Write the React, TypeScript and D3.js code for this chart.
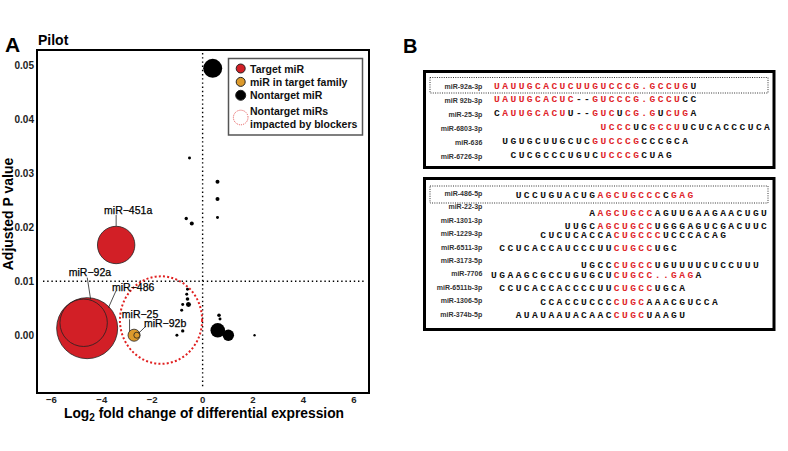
import React from "react";
import * as d3 from "d3";

const W = 788;
const H = 451;

// ---------- Panel A data ----------
const pointNames = [
  "miR-486", "miR-92a", "miR-451a", "miR-25", "miR-92b",
  "", "", "", "", "", "", "", "", "", "", "", "", "", "", "", "", "", "", "", "",
];
const pointType = [
  "target", "target", "target", "family", "family",
  "non", "non", "non", "non", "non", "non", "non", "non", "non", "non", "non",
  "non", "non", "non", "non", "non", "non", "non", "non", "non",
];
const pointLog2FC = [
  -4.58, -4.72, -3.43, -2.72, -2.61,
  0.4, 0.6, 1.02, -0.56, -0.52, 0.59, 0.59, 0.59, -0.65, -0.43,
  -0.6, -0.63, -0.6, -0.79, -0.83, -0.79, -1.02, 0.65, 0.69, 2.06,
];
const pointPadj = [
  0.0013, 0.0023, 0.0167, 0.0, 0.0,
  0.0494, 0.0009, 0.0, 0.0057, 0.0328, 0.0284, 0.0252, 0.0218, 0.0216, 0.0207,
  0.0085, 0.0076, 0.0067, 0.0057, 0.0046, 0.0008, 0.0, 0.0037, 0.003, 0.0,
];
const pointAbundance = [
  1000, 604, 376, 39, 9.7,
  97, 57, 35, 6.7, 2.4, 4.3, 4.3, 2.4, 3, 4.3,
  2.4, 2.4, 3.5, 2.4, 2.4, 3, 2.4, 3.5, 2.4, 1.5,
];
const blockerRegion = { x: -1.65, y: 0.0028, rx: 1.63, ry: 0.0081 };
const xTicks = [-6, -4, -2, 0, 2, 4, 6];
const yTicks = [0, 0.01, 0.02, 0.03, 0.04, 0.05];
const legendItems = ["Target miR", "miR in target family", "Nontarget miR"];
const legendBlocker = ["Nontarget miRs", "impacted by blockers"];

// ---------- Panel B data ----------
const topLabels = ["miR-92a-3p", "miR 92b-3p", "miR-25-3p", "miR-6803-3p", "miR-636", "miR-6726-3p"];
const topSeqs = [
  "UAUUGCACUCUUGUCCCG.GCCUGU",
  "UAUUGCACUC--GUCCCG.GCCUCC",
  "CAUUGCACUU--GUCUCG.GUCUGA",
  "UCCCUCGCCUUCUCACCCUCA",
  "UGUGCUUGCUCGUCCCGCCCGCA",
  "CUCGCCCUGUCUCCCGCUAG",
];
const topStarts = [0, 0, 0, 13, 1, 2];
const topMasks = [
  "RRRRRRRRRRRRRRRRRRRRRRRRK",
  "RRRRRRRRRRKKRRRRRRRRRRRKK",
  "KRRRRRRRRKKKRRRKRRRRKRRRK",
  "RRRRKKRRRRKKKKKKKKKKK",
  "KKKKKKKKKKKRRRRRRKKKKKK",
  "KKKKKKKKKKKRRRRRKKKK",
];
const bottomLabels = [
  "miR-486-5p", "miR-22-3p", "miR-1301-3p", "miR-1229-3p", "miR-6511-3p",
  "miR-3173-5p", "miR-7706", "miR-6511b-3p", "miR-1306-5p", "miR-374b-5p",
];
const bottomSeqs = [
  "UCCUGUACUGAGCUGCCCCGAG",
  "AAGCUGCCAGUUGAAGAACUGU",
  "UUGCAGCUGCCUGGGAGUCGACUUC",
  "CUCUCACCACUGCCCUCCCACAG",
  "CCUCACCAUCCCUUCUGCCUGC",
  "UGCCCUGCCUGUUUUCUCCUUU",
  "UGAAGCGCCUGUGCUCUGCC..GAGA",
  "CCUCACCACCCCUUCUGCCUGCA",
  "CCACCUCCCCUGCAAACGUCCA",
  "AUAUAAUACAACCUGCUAAGU",
];
const bottomStarts = [3, 12, 9, 6, 1, 11, 0, 1, 6, 3];
const bottomMasks = [
  "KKKKKKKKKKRRRRRRRRKRRR",
  "KRRRRRRRKKKKKKKKKKKKKK",
  "KKKKRRRRRRRKKKKKKKKKKKKKK",
  "KKKKKKKKKRRRRRRKKKKKKKK",
  "KKKKKKKKKKKKKKRRRRRKKK",
  "KKKKRRRRRKKKKKKKKKKKKK",
  "KKKKKKKKKKKKKKKRRRRRRRRRRK",
  "KKKKKKKKKKKKKKRRRRRKKKK",
  "KKKKKKKKKRRRRKKKKKKKKK",
  "KKKKKKKKKKKKRRRRKKKKK",
];

// ---------- layout ----------
const SANS = "'Liberation Sans', Arial, sans-serif";
const MONO = "'Liberation Mono', 'Courier New', monospace";
const RED = "#d21f26";
const ORANGE = "#dc9a2c";
const SEQRED = "#e0262b";

const plot = { left: 37, right: 369, top: 50, bottom: 393 };
const x = d3.scaleLinear().domain([-6.57, 6.6]).range([plot.left, plot.right]);
const y = d3.scaleLinear().domain([-0.0107, 0.0528]).range([plot.bottom, plot.top]);
const r = d3.scaleSqrt().domain([0, 1000]).range([0, 30.5]);
const fmtY = d3.format(".2f");
const fmtX = d3.format("d");

// annotation offsets (px) relative to point centre
const labelLayout: Record<string, { tx: number; ty: number; l: number[] }> = {
  "miR-451a": { tx: 12, ty: -30.5, l: [0, -30, 0, -19] },
  "miR-92a": { tx: 6.3, ty: -46.5, l: [3.6, -45.2, 7, -23.4] },
  "miR-486": { tx: 46, ty: -37.3, l: [28.7, -37.1, 21.3, -20.5] },
  "miR-25": { tx: 6, ty: -17, l: [-4.5, -16, -4.5, -4] },
  "miR-92b": { tx: 28.3, ty: -8, l: [9, -9, 1.8, -2] },
};

const pitch = 8.18;

function SeqBox({ bx, by, bw, bh, labels, seqs, starts, masks, labelY, seqY, col0, dotBox }: any) {
  return (
    <g>
      <rect x={bx} y={by} width={bw} height={bh} fill="white" stroke="#000" strokeWidth={3} />
      <rect x={dotBox[0]} y={dotBox[1]} width={dotBox[2]} height={dotBox[3]} fill="none" stroke="#333" strokeWidth={1} strokeDasharray="1,1.3" />
      {labels.map((lab: string, i: number) => (
        <text key={"l" + i} x={482.3} y={labelY[i]} textAnchor="end" dominantBaseline="central"
          fontFamily={SANS} fontSize={7} fontWeight="bold" fill="#333">{lab}</text>
      ))}
      {seqs.map((s: string, i: number) =>
        s.split("").map((ch, j) => (
          <text key={"s" + i + "_" + j} x={col0 + (starts[i] + j) * pitch} y={seqY[i]} textAnchor="middle"
            dominantBaseline="central" fontFamily={MONO} fontSize={9.6} fontWeight="bold"
            fill={masks[i][j] === "R" ? SEQRED : "#111"}>{ch}</text>
        ))
      )}
    </g>
  );
}

export default function App() {
  const idx = d3.range(pointNames.length);
  const order = idx.slice().sort((a, b) => pointAbundance[b] - pointAbundance[a]);
  const fill = (t: string) => (t === "target" ? RED : t === "family" ? ORANGE : "#000");

  const topLabelY = topLabels.map((_, i) => 86 + i * 14);
  const topSeqY = topSeqs.map((_, i) => 86 + i * 13.8);
  const botLabelY = bottomLabels.map((_, i) => 193.5 + i * 13.4);
  const botSeqY = [195.3, 213, 226.5, 235.5, 248.7, 265, 275, 288.5, 302, 315];

  return (
    <svg width={W} height={H} style={{ position: "absolute", left: 0, top: 0, display: "block", background: "white" }}>
      {/* Panel labels */}
      <text x={5} y={52} fontFamily={SANS} fontSize={21} fontWeight="bold">A</text>
      <text x={38} y={45} fontFamily={SANS} fontSize={14} fontWeight="bold">Pilot</text>
      <text x={403} y={53} fontFamily={SANS} fontSize={20} fontWeight="bold">B</text>

      {/* reference lines */}
      <line x1={x(0)} x2={x(0)} y1={53} y2={388} stroke="#000" strokeWidth={1.4} strokeDasharray="1.4,2.8" />
      <line x1={43} x2={366} y1={y(0.01)} y2={y(0.01)} stroke="#000" strokeWidth={1.4} strokeDasharray="1.4,2.8" />

      {/* blocker region */}
      <ellipse cx={x(blockerRegion.x)} cy={y(blockerRegion.y)}
        rx={x(blockerRegion.rx) - x(0)} ry={y(0) - y(blockerRegion.ry)}
        fill="none" stroke="#e02020" strokeWidth={2} strokeDasharray="2,2.2" />

      {/* points */}
      {order.map((i) => (
        <circle key={i} cx={x(pointLog2FC[i])} cy={y(pointPadj[i])} r={r(pointAbundance[i])}
          fill={fill(pointType[i])} stroke={pointType[i] === "non" ? "none" : "#222"}
          strokeWidth={pointType[i] === "non" ? 0 : 0.8} />
      ))}

      {/* annotations */}
      {idx.filter((i) => labelLayout[pointNames[i]]).map((i) => {
        const L = labelLayout[pointNames[i]];
        const cx = x(pointLog2FC[i]);
        const cy = y(pointPadj[i]);
        return (
          <g key={"a" + i}>
            <line x1={cx + L.l[0]} y1={cy + L.l[1]} x2={cx + L.l[2]} y2={cy + L.l[3]} stroke="#222" strokeWidth={0.8} />
            <text x={cx + L.tx} y={cy + L.ty} textAnchor="middle" fontFamily={SANS} fontSize={10.5} fill="#000"
              stroke="#000" strokeWidth={0.25}>
              {pointNames[i].replace("-", "\u2212")}
            </text>
          </g>
        );
      })}

      {/* frame */}
      <rect x={plot.left} y={plot.top} width={plot.right - plot.left} height={plot.bottom - plot.top}
        fill="none" stroke="#000" strokeWidth={2} />

      {/* ticks */}
      {yTicks.map((t) => (
        <text key={"y" + t} x={34} y={y(t)} textAnchor="end" dominantBaseline="central"
          fontFamily={SANS} fontSize={10} fontWeight="bold" fill="#222">{fmtY(t)}</text>
      ))}
      {xTicks.map((t) => (
        <text key={"x" + t} x={x(t)} y={399.3} textAnchor="middle" dominantBaseline="central"
          fontFamily={SANS} fontSize={9.6} fontWeight="bold" fill="#222">{fmtX(t)}</text>
      ))}

      {/* axis titles */}
      <text transform={`translate(13,${214}) rotate(-90)`} textAnchor="middle"
        fontFamily={SANS} fontSize={14} fontWeight="bold">Adjusted P value</text>
      <text x={204} y={417.5} textAnchor="middle" fontFamily={SANS} fontSize={13.8} fontWeight="bold">
        Log<tspan fontSize={10} dy={3.5}>2</tspan><tspan dy={-3.5}> fold change of differential expression</tspan>
      </text>

      {/* legend */}
      <g>
        <rect x={228.5} y={58.5} width={134} height={76.5} fill="white" stroke="#555" strokeWidth={1.5} />
        {legendItems.map((lab, i) => (
          <g key={"lg" + i}>
            <circle cx={240.7} cy={68.5 + i * 13.4} r={i === 2 ? 5 : 4.5}
              fill={i === 0 ? RED : i === 1 ? ORANGE : "#000"} stroke="#222" strokeWidth={1} />
            <text x={250} y={68.5 + i * 13.4} dominantBaseline="central" fontFamily={SANS}
              fontSize={10.5} fontWeight="bold" fill="#111">{lab}</text>
          </g>
        ))}
        <circle cx={240.7} cy={117.5} r={7.3} fill="none" stroke="#e04040" strokeWidth={0.9} strokeDasharray="1,1" />
        {legendBlocker.map((lab, i) => (
          <text key={"lb" + i} x={250} y={111 + i * 13} dominantBaseline="central" fontFamily={SANS}
            fontSize={10.5} fontWeight="bold" fill="#111">{lab}</text>
        ))}
      </g>

      {/* Panel B */}
      <SeqBox bx={424.5} by={71.5} bw={349.5} bh={96} labels={topLabels} seqs={topSeqs} starts={topStarts}
        masks={topMasks} labelY={topLabelY} seqY={topSeqY} col0={497} dotBox={[430, 77.5, 338, 15.5]} />
      <SeqBox bx={424.5} by={178.5} bw={349.5} bh={151} labels={bottomLabels} seqs={bottomSeqs} starts={bottomStarts}
        masks={bottomMasks} labelY={botLabelY} seqY={botSeqY} col0={494} dotBox={[430, 186, 338, 17]} />
    </svg>
  );
}
